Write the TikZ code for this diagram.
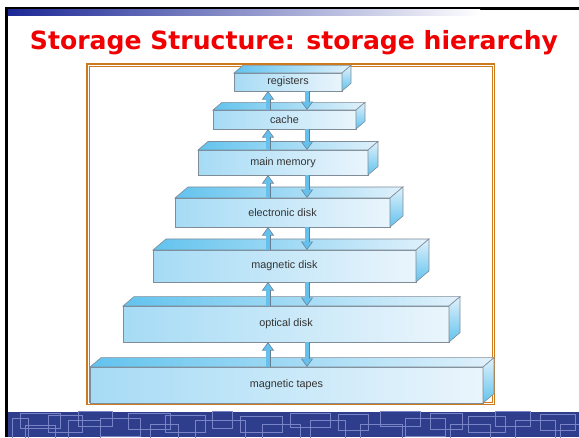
\documentclass[tikz,border=0pt]{standalone}
\usepackage{fontspec}
\setmainfont{Liberation Sans}
\newfontfamily\titlefont{DejaVu Sans}
\usetikzlibrary{arrows.meta,calc,positioning}

\definecolor{slidered}{RGB}{240,0,0}
\definecolor{bandblue}{RGB}{46,62,140}
\definecolor{bandline}{RGB}{120,132,198}
\definecolor{barblue}{RGB}{28,40,150}
\definecolor{frameorange}{RGB}{204,122,30}
\definecolor{faceleft}{RGB}{166,219,245}
\definecolor{faceright}{RGB}{234,245,252}
\definecolor{topleft}{RGB}{98,195,238}
\definecolor{topright}{RGB}{224,241,251}
\definecolor{edgegray}{RGB}{128,140,152}
\definecolor{arrowedge}{RGB}{105,125,145}
\definecolor{arrowblue}{RGB}{100,192,236}
\definecolor{labelgray}{RGB}{51,51,51}

\tikzset{
  level/.style={draw=edgegray, line width=0.6pt, inner sep=0pt, outer sep=0pt,
    left color=faceleft, right color=faceright,
    font=\fontsize{10.8}{12}\selectfont, text=labelgray},
  lid/.style={draw=edgegray, line width=0.6pt, left color=topleft, right color=topright},
  flank/.style={draw=edgegray, line width=0.6pt, top color=topright, bottom color=topleft},
  link/.style={draw=arrowedge, line width=5pt, -{Triangle[length=8.5pt,width=11.5pt]},
    postaction={draw=arrowblue, line width=3.2pt, shorten >=1.2pt,
      -{Triangle[length=6.6pt,width=8.8pt]}}}
}

\begin{document}
\begin{tikzpicture}[x=1pt,y=-1pt]
\useasboundingbox (0,0) rectangle (579,437);

% slide frame
\fill[black] (5,6.5) rectangle (579,9.8);
\fill[black] (5,6.5) rectangle (7.8,437);
\shade[left color=barblue, right color=white] (7.8,9.8) rectangle (480,15);
\node[anchor=base, text=slidered, font=\titlefont\bfseries\fontsize{25.1}{30}\selectfont] (title) at (294,49) {Storage Structure: storage hierarchy};

% bottom band
\fill[bandblue] (7.8,411.5) rectangle (579,437);
\begin{scope}
\clip (7.8,411.5) rectangle (579,437);
\foreach \xa/\ya/\xb/\yb in {12/418/28/445, 20/413/60/428, 25/425/55/445, 48/415/82/432,
  68/420/100/445, 78/411/112/426, 100/418/140/436, 128/413/170/429, 150/424/178/445,
  165/415/205/432, 195/420/245/445, 212/411/232/428, 240/416/282/432, 262/424/300/445,
  290/413/330/427, 310/420/345/440, 338/414/368/430, 360/424/402/445, 380/411/420/426,
  405/418/445/436, 430/413/462/429, 450/424/490/445, 468/416/505/432, 495/411/530/426,
  515/420/555/440, 540/414/575/430, 560/424/585/445}
  \draw[bandline, line width=0.9pt] (\xa,\ya) rectangle (\xb,\yb);
\end{scope}

% picture frame
\draw[frameorange, line width=1.6pt] (87,64) rectangle (494.5,404.5);
\draw[frameorange, line width=0.7pt] (89.6,66.6) rectangle (491.9,401.9);

% levels
\foreach \name/\cx/\cy/\w/\h/\dep/\txt in {
  reg/288/82/108/18/9/registers,
  cache/284.5/119.5/143/19/9/cache,
  mem/283/162.5/170/25/10/main memory,
  edisk/282.5/212.5/215/29/13/electronic disk,
  mdisk/284.5/266/263/32/13/magnetic disk,
  odisk/286/324/326/36/11/optical disk,
  tape/286.5/385/393/36/11/magnetic tapes} {
  \node[level, minimum width=\w pt, minimum height=\h pt] (\name) at (\cx,\cy) {\txt};
  \draw[lid] (\name.north west) -- ++(\dep,-0.85*\dep) -- ($(\name.north east)+(\dep,-0.85*\dep)$)
    -- (\name.north east) -- cycle;
  \draw[flank] (\name.north east) -- ++(\dep,-0.85*\dep) -- ($(\name.south east)+(\dep,-0.85*\dep)$)
    -- (\name.south east) -- cycle;
}

\coordinate (upx) at (268,0);
\coordinate (downx) at (307,0);

% transfers between levels
\foreach \hi/\lo in {reg/cache, cache/mem, mem/edisk, edisk/mdisk, mdisk/odisk, odisk/tape} {
  \draw[link] (\lo.north -| upx) -- (\hi.south -| upx);
  \draw[link] (\hi.south -| downx) -- (\lo.north -| downx);
}

\end{tikzpicture}
\end{document}
